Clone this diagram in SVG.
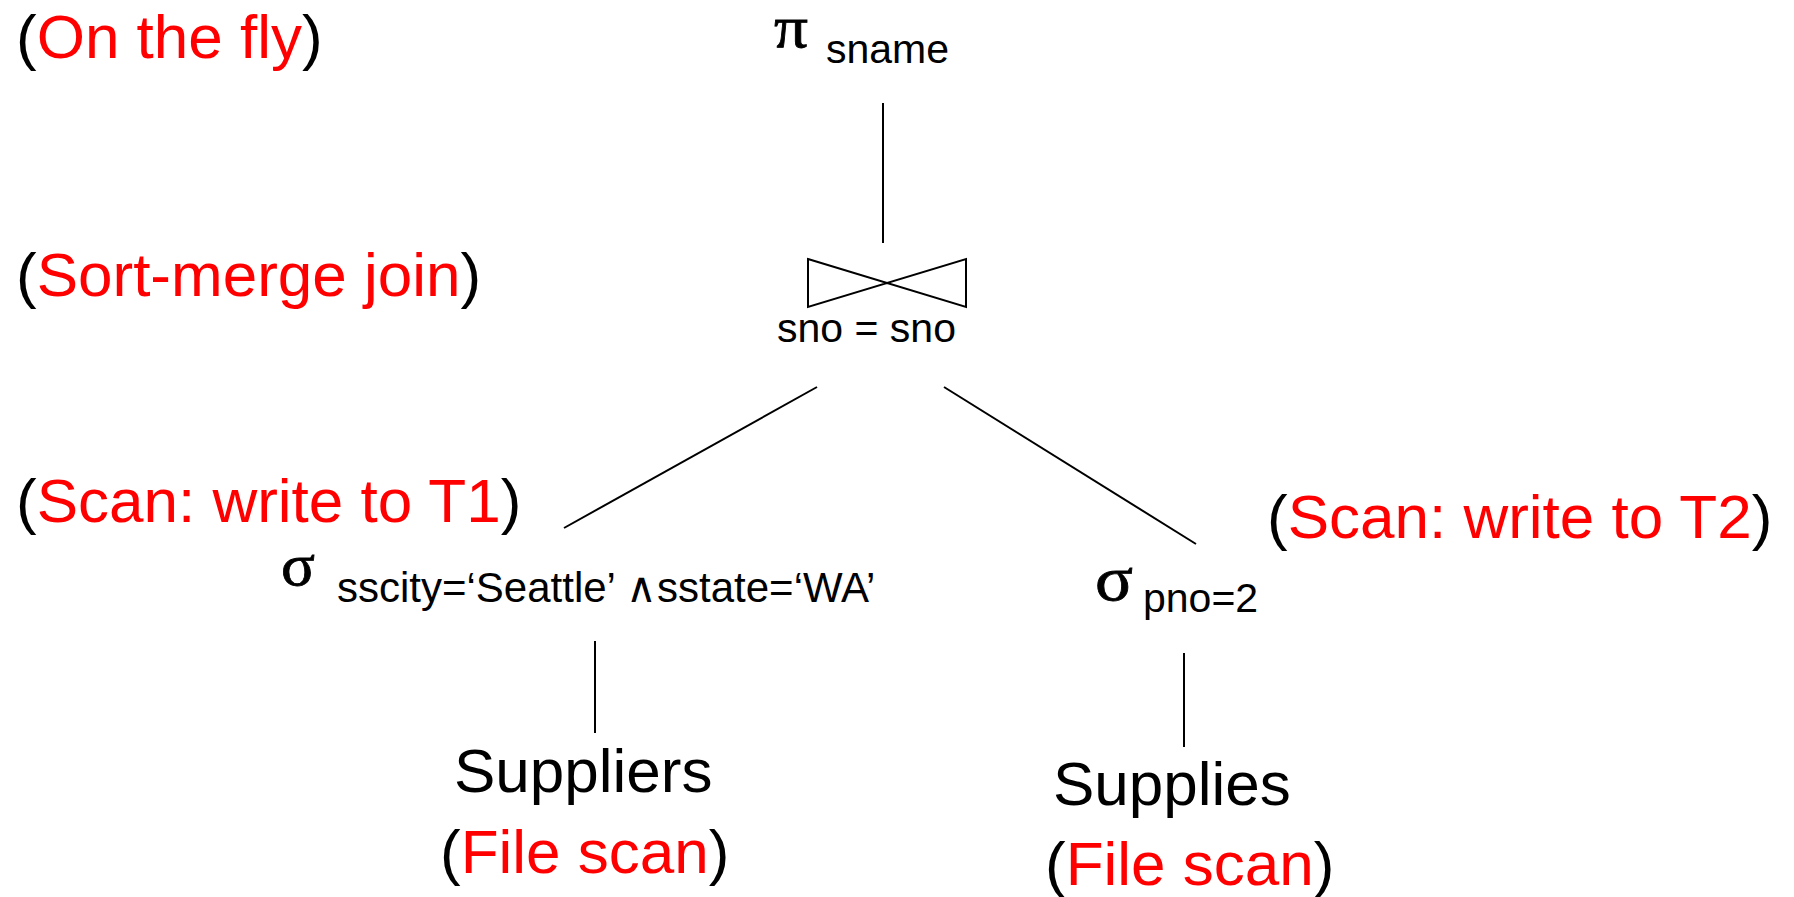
<svg xmlns="http://www.w3.org/2000/svg" width="1794" height="897" viewBox="0 0 1794 897">
<style>
.t{font-family:"Liberation Sans",Arial,sans-serif;fill:#000}
.big{font-size:62px}
.sub{font-size:41px}
.g{font-family:"Liberation Serif","Times New Roman",serif;fill:#000;stroke:#000;stroke-width:0.8}
.r{fill:#FF0000}
.ln{stroke:#000;stroke-width:2;fill:none}
</style>
<rect width="1794" height="897" fill="#fff"/>
<g id="annotations">
<text class="t big" x="16" y="58">(<tspan class="r">On the fly</tspan>)</text>
<text class="t big" x="16" y="296">(<tspan class="r">Sort-merge join</tspan>)</text>
<text class="t big" x="16" y="522">(<tspan class="r">Scan: write to T1</tspan>)</text>
<text class="t big" x="1267" y="538">(<tspan class="r">Scan: write to T2</tspan>)</text>
</g>
<g id="connectors">
<line class="ln" x1="883" y1="103" x2="883" y2="243"/>
<line class="ln" x1="817" y1="387" x2="564" y2="528"/>
<line class="ln" x1="944" y1="387" x2="1196" y2="544"/>
<line class="ln" x1="595" y1="641" x2="595" y2="733"/>
<line class="ln" x1="1184" y1="653" x2="1184" y2="747"/>
</g>
<g id="project">
<text class="g" x="774" y="47" font-size="60" textLength="34" lengthAdjust="spacingAndGlyphs">π</text>
<text class="t sub" x="826" y="63">sname</text>
</g>
<g id="join">
<path class="ln" d="M808,259 L966,307 L966,259 L808,307 Z"/>
<text class="t sub" x="777" y="342">sno = sno</text>
</g>
<g id="select-left">
<text class="g" x="281" y="585" font-size="60" textLength="34" lengthAdjust="spacingAndGlyphs">σ</text>
<text class="t" x="337" y="602" font-size="42">sscity=‘Seattle’ ∧sstate=‘WA’</text>
</g>
<g id="select-right">
<text class="g" x="1095" y="600" font-size="64" textLength="38" lengthAdjust="spacingAndGlyphs">σ</text>
<text class="t sub" x="1143" y="612">pno=2</text>
</g>
<g id="suppliers">
<text class="t big" x="454" y="792">Suppliers</text>
<text class="t big" x="440" y="873">(<tspan class="r">File scan</tspan>)</text>
</g>
<g id="supplies">
<text class="t big" x="1053" y="805">Supplies</text>
<text class="t big" x="1045" y="885">(<tspan class="r">File scan</tspan>)</text>
</g>
</svg>
